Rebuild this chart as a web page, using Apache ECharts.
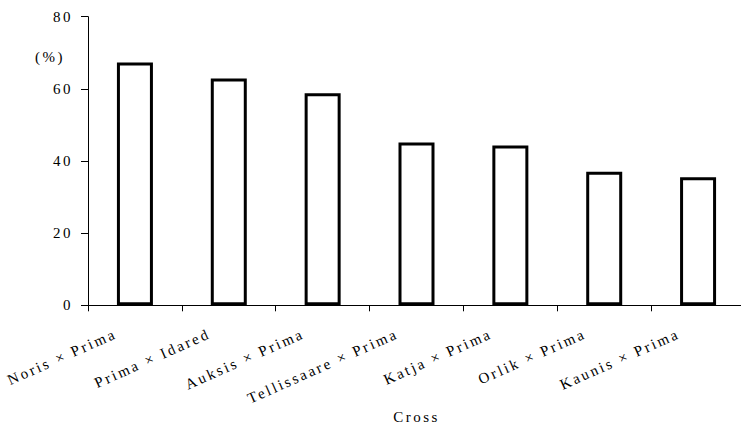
<!DOCTYPE html>
<html>
<head>
<meta charset="utf-8">
<script src="https://cdn.jsdelivr.net/npm/echarts@6/dist/echarts.min.js"></script>
<style>
  html, body { margin: 0; padding: 0; background: #fff; }
  #main { width: 741px; height: 425px; }
  /* the original lettering is spaced out */
  #main svg text { letter-spacing: 2.5px; font-family: 'Liberation Serif', 'Times New Roman', serif; }
</style>
</head>
<body>
<div id="main"></div>
<script>
// crosses and the share for each (%)
const crosses = ['Noris × Prima', 'Prima × Idared', 'Auksis × Prima', 'Tellissaare × Prima', 'Katja × Prima', 'Orlik × Prima', 'Kaunis × Prima']
const shares = [67.3, 62.9, 58.8, 45.1, 44.3, 37.0, 35.5]
const yTicks = [0, 20, 40, 60, 80]

const font = "'Liberation Serif', 'Times New Roman', serif"
let chart = echarts.init(document.getElementById('main'), null, { renderer: 'svg' })
let option = {
  animation: false,
  grid: { left: 88, right: -4, top: 16.7, bottom: 119.7, outerBoundsMode: 'none' },
  graphic: [
    {
      type: 'text',
      left: 35,
      top: 49,
      style: { text: '(%)', font: '15px ' + font, fill: '#000' }
    }
  ],
  xAxis: {
    type: 'category',
    data: crosses,
    name: 'Cross',
    nameLocation: 'middle',
    nameGap: 104,
    nameTextStyle: { fontFamily: font, fontSize: 15, color: '#000' },
    axisLine: { lineStyle: { color: '#000', width: 1 } },
    axisTick: { show: true, length: 6, lineStyle: { color: '#000' } },
    axisLabel: {
      interval: 0,
      rotate: 24,
      margin: 19,
      fontFamily: font,
      fontSize: 15,
      color: '#000',
      padding: [0, 21, 0, 0]
    }
  },
  yAxis: {
    type: 'value',
    min: yTicks[0],
    max: yTicks[yTicks.length - 1],
    interval: 20,
    splitLine: { show: false },
    axisLine: { show: true, lineStyle: { color: '#000', width: 1 } },
    axisTick: { show: true, length: 7, lineStyle: { color: '#000' } },
    axisLabel: { margin: 15, fontFamily: font, fontSize: 15, color: '#000' }
  },
  series: [
    {
      type: 'bar',
      data: shares,
      barWidth: 36,
      itemStyle: { color: '#fff', borderColor: '#000', borderWidth: 3 }
    }
  ]
}
chart.setOption(option)
</script>
</body>
</html>
